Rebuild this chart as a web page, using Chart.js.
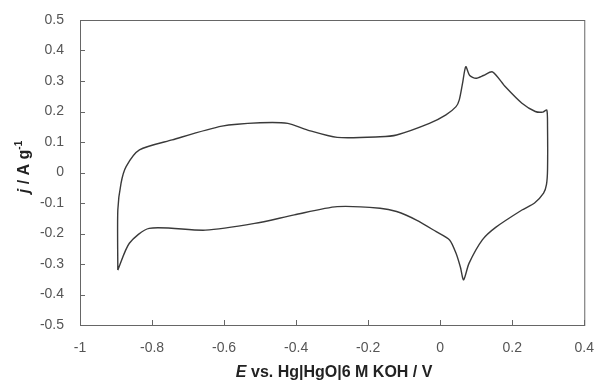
<!DOCTYPE html>
<html>
<head>
<meta charset="utf-8">
<script src="https://cdn.jsdelivr.net/npm/chart.js@4.4.1/dist/chart.umd.min.js"></script>
<style>
  html, body { margin: 0; padding: 0; background: #fff; }
  #wrap { width: 601px; height: 390px; position: relative; }
</style>
</head>
<body>
<div id="wrap"><canvas id="cv"></canvas></div>
<script>
const potential = [
  -0.895, -0.895, -0.886, -0.872, -0.835, -0.744, -0.606, -0.50, -0.423, -0.368,
  -0.286, -0.167, -0.121, -0.03, 0.016, 0.044, 0.053, 0.062, 0.071, 0.082,
  0.099, 0.12, 0.145, 0.181, 0.227, 0.264, 0.285, 0.296, 0.298, 0.298,
  0.295, 0.287, 0.262, 0.227, 0.154, 0.117, 0.08, 0.065, 0.056, 0.044,
  0.026, -0.011, -0.066, -0.121, -0.167, -0.286, -0.405, -0.515, -0.652, -0.808,
  -0.863, -0.895
];
const current = [
  -0.32, -0.123, -0.035, 0.019, 0.074, 0.107, 0.152, 0.163, 0.161, 0.139,
  0.115, 0.117, 0.123, 0.161, 0.189, 0.216, 0.238, 0.292, 0.347, 0.318,
  0.309, 0.318, 0.33, 0.281, 0.227, 0.2, 0.198, 0.205, 0.15, 0.008,
  -0.04, -0.068, -0.1, -0.123, -0.18, -0.221, -0.298, -0.352, -0.31, -0.265,
  -0.221, -0.194, -0.156, -0.128, -0.117, -0.112, -0.139, -0.167, -0.189, -0.183,
  -0.232, -0.32
];
const xTicks = [-1, -0.8, -0.6, -0.4, -0.2, 0, 0.2, 0.4];
const yTicks = [-0.5, -0.4, -0.3, -0.2, -0.1, 0, 0.1, 0.2, 0.3, 0.4, 0.5];

const points = potential.map((e, i) => ({ x: e, y: current[i] }));

// inward tick marks, frame and mixed-style axis titles
const framePlugin = {
  id: "frame",
  afterDraw(chart) {
    const ctx = chart.ctx;
    const a = chart.chartArea;
    const xs = chart.scales.x;
    const ys = chart.scales.y;
    ctx.save();
    ctx.strokeStyle = "#666";
    ctx.lineWidth = 1;
    ctx.strokeRect(a.left + 0.5, a.top + 0.5, a.right - a.left, a.bottom - a.top);
    ctx.beginPath();
    xTicks.forEach((v) => {
      const px = Math.round(xs.getPixelForValue(v)) + 0.5;
      ctx.moveTo(px, a.bottom);
      ctx.lineTo(px, a.bottom - 5);
    });
    yTicks.forEach((v) => {
      const py = Math.round(ys.getPixelForValue(v)) + 0.5;
      ctx.moveTo(a.left, py);
      ctx.lineTo(a.left + 5, py);
    });
    ctx.stroke();

    // x title
    ctx.fillStyle = "#222";
    ctx.textBaseline = "alphabetic";
    const partsX = [
      ["italic bold 16px 'Liberation Sans', Arial", "E"],
      ["bold 16px 'Liberation Sans', Arial", " vs. Hg|HgO|6 M KOH / V"]
    ];
    let total = 0;
    partsX.forEach((p) => { ctx.font = p[0]; total += ctx.measureText(p[1]).width; });
    let x = (a.left + a.right) / 2 - total / 2 + 2;
    partsX.forEach((p) => { ctx.font = p[0]; ctx.fillText(p[1], x, 377); x += ctx.measureText(p[1]).width; });

    // y title (rotated)
    ctx.translate(29, 167);
    ctx.rotate(-Math.PI / 2);
    const partsY = [
      ["italic bold 16px 'Liberation Sans', Arial", "j", 0],
      ["bold 16px 'Liberation Sans', Arial", " / A g", 0],
      ["bold 10px 'Liberation Sans', Arial", "-1", -7]
    ];
    total = 0;
    partsY.forEach((p) => { ctx.font = p[0]; total += ctx.measureText(p[1]).width; });
    x = -total / 2;
    partsY.forEach((p) => { ctx.font = p[0]; ctx.fillText(p[1], x, p[2]); x += ctx.measureText(p[1]).width; });
    ctx.restore();
  }
};

new Chart(document.getElementById("cv"), {
  type: "scatter",
  data: {
    datasets: [{
      data: points,
      showLine: true,
      borderColor: "#3a3a3a",
      borderWidth: 1.4,
      pointRadius: 0,
      tension: 0.25,
      fill: false
    }]
  },
  options: {
    responsive: true,
    maintainAspectRatio: false,
    animation: false,
    layout: { padding: { left: 0, right: 11, top: 20, bottom: 0 } },
    plugins: { legend: { display: false }, tooltip: { enabled: false } },
    scales: {
      x: {
        type: "linear",
        min: -1,
        max: 0.4,
        afterFit: (s) => { s.height = 65; },
        afterBuildTicks: (s) => { s.ticks = xTicks.map((v) => ({ value: v })); },
        grid: { display: false },
        border: { display: false },
        ticks: {
          color: "#555",
          font: { family: "'Liberation Sans', Arial", size: 14 },
          padding: 7,
          maxRotation: 0,
          callback: (v) => String(Math.round(v * 10) / 10)
        }
      },
      y: {
        type: "linear",
        min: -0.5,
        max: 0.5,
        afterFit: (s) => { s.width = 80; },
        afterBuildTicks: (s) => { s.ticks = yTicks.map((v) => ({ value: v })); },
        grid: { display: false },
        border: { display: false },
        ticks: {
          color: "#555",
          font: { family: "'Liberation Sans', Arial", size: 14 },
          padding: 8,
          callback: (v) => String(Math.round(v * 10) / 10)
        }
      }
    }
  },
  plugins: [framePlugin]
});
</script>
</body>
</html>
